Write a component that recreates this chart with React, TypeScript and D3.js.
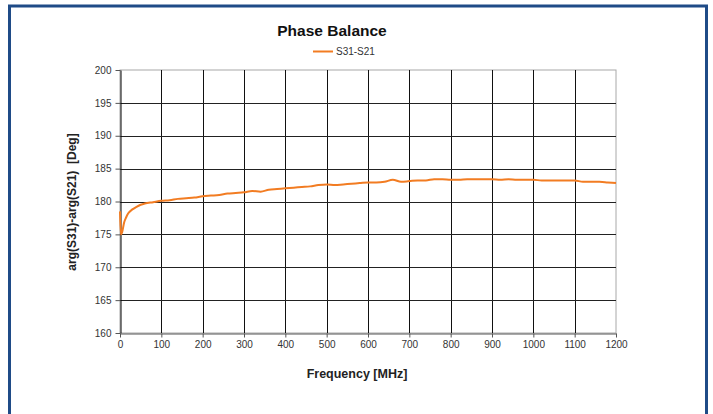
import * as d3 from "d3";
import { useEffect, useRef } from "react";

const freqs = [
  0, 2, 5, 10, 15, 20, 30, 40, 50, 60, 80, 100, 120, 140, 160, 180, 200, 220, 240, 260, 280, 300,
  320, 340, 360, 380, 400, 420, 440, 460, 480, 500, 520, 540, 560, 580, 600, 620, 640, 660, 680,
  700, 720, 740, 760, 780, 800, 820, 840, 860, 880, 900, 920, 940, 960, 980, 1000, 1020, 1040,
  1060, 1080, 1100, 1120, 1140, 1160, 1180, 1200,
];
const phase = [
  178.5, 175.0, 175.3, 176.8, 177.6, 178.2, 178.8, 179.2, 179.5, 179.7, 179.9, 180.1, 180.2, 180.4,
  180.5, 180.6, 180.8, 180.9, 181.0, 181.2, 181.3, 181.4, 181.6, 181.5, 181.8, 181.9, 182.0, 182.1,
  182.2, 182.3, 182.5, 182.6, 182.5, 182.6, 182.7, 182.8, 182.9, 182.9, 183.0, 183.3, 183.0, 183.1,
  183.2, 183.2, 183.4, 183.4, 183.3, 183.3, 183.4, 183.4, 183.4, 183.4, 183.3, 183.4, 183.3, 183.3,
  183.3, 183.2, 183.2, 183.2, 183.2, 183.2, 183.0, 183.0, 183.0, 182.9, 182.8,
];
const xTicks = [0, 100, 200, 300, 400, 500, 600, 700, 800, 900, 1000, 1100, 1200];
const yTicks = [160, 165, 170, 175, 180, 185, 190, 195, 200];
const seriesName = "S31-S21";

const W = 713;
const H = 414;
const plot = { left: 120, right: 616, top: 70, bottom: 333 };
const font = "Arial, 'Liberation Sans', sans-serif";
const orange = "#f27c22";

export default function App() {
  const ref = useRef<SVGSVGElement>(null);

  useEffect(() => {
    if (!ref.current) return;
    const svg = d3.select(ref.current);
    svg.selectAll("*").remove();

    const x = d3.scaleLinear().domain([0, 1200]).range([plot.left, plot.right]);
    const y = d3.scaleLinear().domain([160, 200]).range([plot.bottom, plot.top]);

    svg.append("rect").attr("width", W).attr("height", H).attr("fill", "#fff");

    // blue frame
    svg.append("rect")
      .attr("x", 9.5).attr("y", 6).attr("width", 697).attr("height", 420)
      .attr("fill", "none").attr("stroke", "#1f4b87").attr("stroke-width", 3);

    const g = svg.append("g");

    // plot border (top / right are light)
    g.append("rect")
      .attr("x", plot.left).attr("y", plot.top)
      .attr("width", plot.right - plot.left).attr("height", plot.bottom - plot.top)
      .attr("fill", "none").attr("stroke", "#a8a8a8").attr("stroke-width", 1);

    // grid
    g.selectAll(".vg").data(xTicks.slice(1, -1)).enter().append("line")
      .attr("x1", d => Math.round(x(d)) + 0.5).attr("x2", d => Math.round(x(d)) + 0.5)
      .attr("y1", plot.top).attr("y2", plot.bottom)
      .attr("stroke", "#111").attr("stroke-width", 1);
    g.selectAll(".hg").data(yTicks.slice(1, -1)).enter().append("line")
      .attr("x1", plot.left).attr("x2", plot.right)
      .attr("y1", d => Math.round(y(d)) + 0.5).attr("y2", d => Math.round(y(d)) + 0.5)
      .attr("stroke", "#222").attr("stroke-width", 1);

    // axes
    const yAxis = g.append("g").attr("transform", `translate(${plot.left + 0.5},0)`)
      .call(d3.axisLeft(y).tickValues(yTicks).tickSize(5).tickSizeOuter(0).tickPadding(4)
        .tickFormat(d3.format("d")));
    const xAxis = g.append("g").attr("transform", `translate(0,${plot.bottom + 0.5})`)
      .call(d3.axisBottom(x).tickValues(xTicks).tickSize(4).tickSizeOuter(0).tickPadding(3)
        .tickFormat(d3.format("d")));
    [yAxis, xAxis].forEach(a => {
      a.select(".domain").attr("stroke", "#555");
      a.selectAll(".tick line").attr("stroke", "#555");
      a.selectAll("text").attr("font-family", font).attr("font-size", 10).attr("fill", "#333");
    });
    yAxis.select(".domain").attr("stroke", "#000");

    // line
    const pts = freqs.map((f, i) => [f, phase[i]] as [number, number]);
    const line = d3.line<[number, number]>()
      .x(d => x(d[0])).y(d => y(d[1]))
      .curve(d3.curveMonotoneX);
    g.append("path").datum(pts)
      .attr("fill", "none").attr("stroke", orange).attr("stroke-width", 2)
      .attr("stroke-linejoin", "round").attr("d", line);

    // title
    svg.append("text").attr("x", 332).attr("y", 36).attr("text-anchor", "middle")
      .attr("font-family", font).attr("font-size", 15.5).attr("font-weight", "bold").attr("fill", "#111")
      .text("Phase Balance");

    // legend
    svg.append("line").attr("x1", 313).attr("x2", 333).attr("y1", 51.5).attr("y2", 51.5)
      .attr("stroke", orange).attr("stroke-width", 2);
    svg.append("text").attr("x", 336).attr("y", 55).attr("font-family", font).attr("font-size", 10)
      .attr("fill", "#333").text(seriesName);

    // axis titles
    svg.append("text").attr("x", 357).attr("y", 378).attr("text-anchor", "middle")
      .attr("font-family", font).attr("font-size", 12.5).attr("font-weight", "bold").attr("fill", "#222")
      .text("Frequency [MHz]");
    svg.append("text")
      .attr("transform", `translate(76,202) rotate(-90)`)
      .attr("text-anchor", "middle")
      .attr("font-family", font).attr("font-size", 12).attr("font-weight", "bold").attr("fill", "#222")
      .attr("xml:space", "preserve")
      .text("arg(S31)-arg(S21)  [Deg]");
  }, []);

  return (
    <div style={{ position: "fixed", left: 0, top: 0, width: W, height: H }}>
      <svg ref={ref} width={W} height={H} style={{ display: "block" }} />
    </div>
  );
}
